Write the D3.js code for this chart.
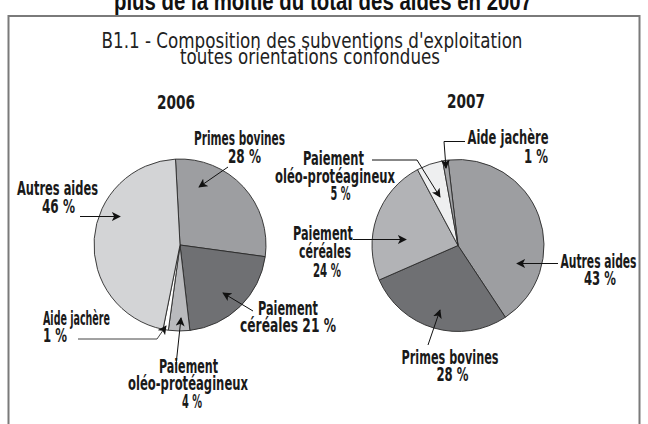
<!DOCTYPE html>
<html><head><meta charset="utf-8">
<script src="https://cdn.jsdelivr.net/npm/d3@7"></script>
<style>body{margin:0;background:#fff}svg{display:block}</style>
</head><body>
<svg id="c" width="648" height="424"></svg>
<script>
// ---------- data ----------
const headline = "plus de la moitié du total des aides en 2007";
const titleLines = ["B1.1 - Composition des subventions d'exploitation", "toutes orientations confondues"];
const years = ["2006", "2007"];
const categories2006 = ["Primes bovines", "Paiement céréales", "Paiement oléo-protéagineux", "Aide jachère", "Autres aides"];
const values2006 = [28, 21, 4, 1, 46];
const categories2007 = ["Autres aides", "Primes bovines", "Paiement céréales", "Paiement oléo-protéagineux", "Aide jachère"];
const values2007 = [43, 28, 24, 5, 1];

// ---------- styles / layout ----------
const colors2006 = ["#9d9ea1", "#6f7073", "#b9babd", "#ffffff", "#d3d4d6"];
const colors2007 = ["#9d9ea1", "#6f7073", "#b2b3b6", "#eeeff0", "#a3a4a7"];
const pies = [
  {year: years[0], cats: categories2006, vals: values2006, cols: colors2006, cx: 180, cy: 245, r: 86, start: -3,
   yearPos: [176, 108.5, 38],
   labels: [
     {lines: [["Primes bovines", 239.5, 145, 91], ["{v} %", 244.5, 163, 33]], path: [[228, 167], [199, 187]]},
     {lines: [["Paiement", 288, 315, 60], ["céréales  {v} %", 288, 332, 96]], path: [[253, 311], [223, 293]]},
     {lines: [["Paiement", 188.5, 372.5, 59], ["oléo-protéagineux", 188, 390, 120], ["{v} %", 192, 408, 20]], path: [[176, 365], [181, 318]]},
     {lines: [["Aide jachère", 76.5, 325, 67], ["{v} %", 55, 342, 24]], path: [[78, 339], [157, 339], [166, 326]], thin: true},
     {lines: [["Autres aides", 57.5, 195, 81], ["{v} %", 58.5, 213, 33]], path: [[80, 216.5], [120, 216.5]]}
   ]},
  {year: years[1], cats: categories2007, vals: values2007, cols: colors2007, cx: 458, cy: 245.5, r: 86, start: -6.7,
   yearPos: [466, 108, 38],
   labels: [
     {lines: [["Autres aides", 598.5, 267.5, 76], ["{v} %", 600, 285, 32]], path: [[558, 263.5], [517, 263.5]]},
     {lines: [["Primes bovines", 450, 363.5, 97], ["{v} %", 452.5, 380.5, 32]], path: [[428, 345], [440, 310]]},
     {lines: [["Paiement", 323, 240, 60], ["céréales", 325, 257.5, 52], ["{v} %", 327, 276.5, 28]], path: [[353, 239.5], [406, 239.5]]},
     {lines: [["Paiement", 333.5, 165, 61], ["oléo-protéagineux", 335, 182.5, 120], ["{v} %", 340.5, 200, 20]], path: [[372, 160], [417, 160], [440, 197]]},
     {lines: [["Aide jachère", 508, 144, 81], ["{v} %", 536, 162.5, 24]], path: [[465, 141.5], [444, 141.5], [446, 168]]}
   ]}
];

const svg = d3.select("#c");
const narrow = "'Liberation Sans Narrow','Arial Narrow','DejaVu Sans Condensed',sans-serif";

svg.append("defs").append("marker")
  .attr("id", "ah").attr("viewBox", "0 0 10 10").attr("refX", 9).attr("refY", 5)
  .attr("markerWidth", 9).attr("markerHeight", 9).attr("markerUnits", "userSpaceOnUse")
  .attr("orient", "auto")
  .append("path").attr("d", "M0,0 L10,5 L0,10 L2.5,5 Z").attr("fill", "#111");

// headline (cut at the top)
svg.append("text").attr("x", 323).attr("y", 10).attr("text-anchor", "middle")
  .attr("font-family", "'Liberation Sans',Arial,sans-serif").attr("font-weight", "bold")
  .attr("font-size", 25).attr("fill", "#111")
  .attr("textLength", 418).attr("lengthAdjust", "spacingAndGlyphs").text(headline);

// frame
svg.append("path").attr("d", "M8.5,440 V16 H639.5 V440")
  .attr("fill", "none").attr("stroke", "#7a7a7a").attr("stroke-width", 2);

// chart title
const tl = [[312, 48, 421], [310, 64, 260]];
titleLines.forEach((t, i) => {
  svg.append("text").attr("x", tl[i][0]).attr("y", tl[i][1]).attr("text-anchor", "middle")
    .attr("font-family", narrow).attr("font-size", 20.5).attr("fill", "#222")
    .attr("textLength", tl[i][2]).attr("lengthAdjust", "spacingAndGlyphs").text(t);
});

pies.forEach(p => {
  const data = p.cats.map((c, i) => ({cat: c, value: p.vals[i], col: p.cols[i], lab: p.labels[i]}));
  const rad = Math.PI / 180;
  const pie = d3.pie().sort(null).value(d => d.value)
    .startAngle(p.start * rad).endAngle((p.start + 360) * rad);
  const arc = d3.arc().innerRadius(0).outerRadius(p.r);
  const g = svg.append("g").attr("transform", `translate(${p.cx},${p.cy})`);
  g.selectAll("path").data(pie(data)).join("path")
    .attr("d", arc).attr("fill", d => d.data.col)
    .attr("stroke", "#2a2a2a").attr("stroke-width", 0.9).attr("stroke-linejoin", "round");

  svg.append("text").attr("x", p.yearPos[0]).attr("y", p.yearPos[1]).attr("text-anchor", "middle")
    .attr("font-family", narrow).attr("font-weight", "bold").attr("font-size", 19).attr("fill", "#1a1a1a")
    .attr("textLength", p.yearPos[2]).attr("lengthAdjust", "spacingAndGlyphs").text(p.year);

  data.forEach(d => {
    const L = d.lab;
    L.lines.forEach(([t, x, y, w]) => {
      svg.append("text").attr("x", x).attr("y", y).attr("text-anchor", "middle")
        .attr("font-family", narrow).attr("font-weight", "bold").attr("font-size", 19).attr("fill", "#1a1a1a")
        .attr("textLength", w).attr("lengthAdjust", "spacingAndGlyphs")
        .text(t.replace("{v}", d.value));
    });
    svg.append("path").attr("d", d3.line()(L.path))
      .attr("fill", "none").attr("stroke", L.thin ? "#444" : "#111").attr("stroke-width", 1)
      .attr("marker-end", "url(#ah)");
  });
});
</script>
</body></html>
